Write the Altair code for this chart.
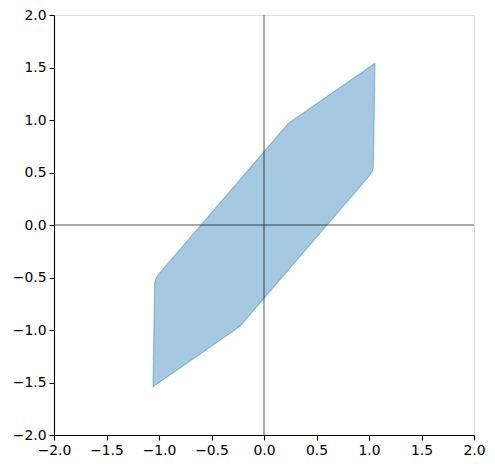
import altair as alt
import pandas as pd

# polygon vertices (closed)
poly_x = [1.057, 1.041, 1.030, 1.010, -0.232, -1.057, -1.041, -1.030, -1.010, 0.232, 1.057]
poly_y = [1.540, 0.555, 0.510, 0.476, -0.968, -1.540, -0.555, -0.510, -0.476, 0.968, 1.540]
ticks = [-2.0, -1.5, -1.0, -0.5, 0.0, 0.5, 1.0, 1.5, 2.0]

df = pd.DataFrame({"x": poly_x, "y": poly_y, "i": list(range(len(poly_x)))})

lab = "replace(format(datum.value, '.1f'), '-', '\u2212')"
xs = alt.Scale(domain=[-2, 2], nice=False, zero=False)
ys = alt.Scale(domain=[-2, 2], nice=False, zero=False)
axis_common = dict(values=ticks, labelExpr=lab, grid=False, domainColor="black",
                   tickColor="black", tickSize=5, tickWidth=1.1, domainWidth=1.1,
                   labelFont="DejaVu Sans", labelFontSize=13.9, labelColor="black",
                   title=None, labelPadding=3, labelOverlap=False, labelFlush=False)

poly = alt.Chart(df).mark_line(
    fill="#1f77b4", fillOpacity=0.4, stroke="#1f77b4", strokeOpacity=0.4, strokeWidth=1.2
).encode(
    x=alt.X("x:Q", scale=xs, axis=alt.Axis(**axis_common)),
    y=alt.Y("y:Q", scale=ys, axis=alt.Axis(**axis_common)),
    order=alt.Order("i:Q"),
)

vline = alt.Chart(pd.DataFrame({"v": [0.0]})).mark_rule(color="black", strokeWidth=0.8, opacity=0.85).encode(
    x=alt.X("v:Q", scale=xs)
)
hline = alt.Chart(pd.DataFrame({"v": [0.0]})).mark_rule(color="black", strokeWidth=0.8, opacity=0.85).encode(
    y=alt.Y("v:Q", scale=ys)
)

chart = alt.layer(poly, vline, hline).properties(
    width=420, height=420,
    autosize=alt.AutoSizeParams(type="none"),
    padding={"left": 46, "top": 7, "right": 13, "bottom": 30},
).configure_view(stroke="black", strokeWidth=1.1).configure(background="white")

chart.save("out.html", embed_options={"renderer": "svg", "actions": False})
